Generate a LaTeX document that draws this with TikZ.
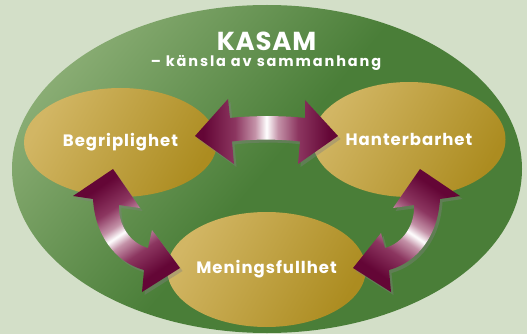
\documentclass[tikz,border=0pt]{standalone}
\usepackage{fontspec}
\setmainfont{Poppins}
\newfontfamily\labelfont{Poppins}[LetterSpace=6]
\newfontfamily\subfont{Poppins}[LetterSpace=13]
\newfontfamily\titlefont{Poppins}[LetterSpace=3]
\usetikzlibrary{shapes.geometric,shadows}
\definecolor{bgpale}{RGB}{211,223,200}
\definecolor{greenlight}{RGB}{142,176,120}
\definecolor{greendark}{RGB}{74,126,56}
\definecolor{goldlight}{RGB}{210,182,100}
\definecolor{golddark}{RGB}{172,140,32}
\definecolor{maroon}{RGB}{100,6,54}
\definecolor{maroonmid}{RGB}{140,54,96}
\definecolor{pinkish}{RGB}{196,146,168}
\pgfdeclarehorizontalshading{greenshade}{100bp}{color(0bp)=(greenlight); color(22bp)=(greenlight); color(50bp)=(greendark); color(100bp)=(greendark)}
\pgfdeclarehorizontalshading{goldshade}{100bp}{color(0bp)=(goldlight); color(25bp)=(goldlight); color(75bp)=(golddark); color(100bp)=(golddark)}
\pgfdeclarehorizontalshading{arrowshade}{100bp}{color(0bp)=(maroon); color(28bp)=(maroon); color(39bp)=(maroonmid); color(46bp)=(pinkish); color(50bp)=(white); color(54bp)=(pinkish); color(61bp)=(maroonmid); color(72bp)=(maroon); color(100bp)=(maroon)}

\begin{document}
\begin{tikzpicture}[x=1pt,y=-1pt,
  oval/.style={ellipse, minimum width=193pt, minimum height=112pt, inner sep=0pt,
    shading=goldshade, shading angle=-30, text=white,
    font=\labelfont\fontsize{16.5}{20}\selectfont\bfseries},
  fatarrow/.style={shading=arrowshade,
    drop shadow={shadow xshift=2.5pt, shadow yshift=-3pt, opacity=0.4}}]
\useasboundingbox (0,0) rectangle (527,334);
\fill [bgpale] (0,0) rectangle (527,334);

% outer ellipse and title
\shade [shading=greenshade, shading angle=-40] (267,169) ellipse [x radius=255, y radius=164];
\node [text=white, font=\titlefont\fontsize{26}{30}\selectfont\bfseries] (title) at (266.5,41) {KASAM};
\node [text=white, font=\subfont\fontsize{14.5}{17}\selectfont\bfseries] (subtitle) at (266,63) {– känsla av sammanhang};

% the three parts
\node [oval, minimum height=109pt] (begr) at (120.5,142.5) {Begriplighet};
\node [oval, minimum height=115pt] (hant) at (409,139.5) {Hanterbarhet};
\node [oval, minimum height=115pt] (men) at (266.5,269.5) {Meningsfullhet};

% arrows
\shade [fatarrow] (195,136) -- (228,99) -- (230,118) .. controls (250,115.5) and (286,115.5) .. (305,118)
  -- (305,100) -- (338,136) -- (298,164) -- (300,141.5) .. controls (281,139) and (251,139) .. (232,141.5)
  -- (234,164) -- cycle;
\shade [fatarrow, shading angle=-56] (113,169) -- (140,208) -- (119,205) .. controls (118,225) and (130,243) .. (148,248)
  -- (152,230) -- (180,268) -- (142,292) -- (144,270) .. controls (115,262) and (95,235) .. (93,199)
  -- (73,196) -- cycle;
\shade [fatarrow, shading angle=56] (420,169) -- (393,208) -- (414,205) .. controls (415,225) and (403,243) .. (385,248)
  -- (381,233) -- (353,268) -- (391,292) -- (389,270) .. controls (418,262) and (438,235) .. (440,199)
  -- (460,196) -- cycle;

\end{tikzpicture}
\end{document}
